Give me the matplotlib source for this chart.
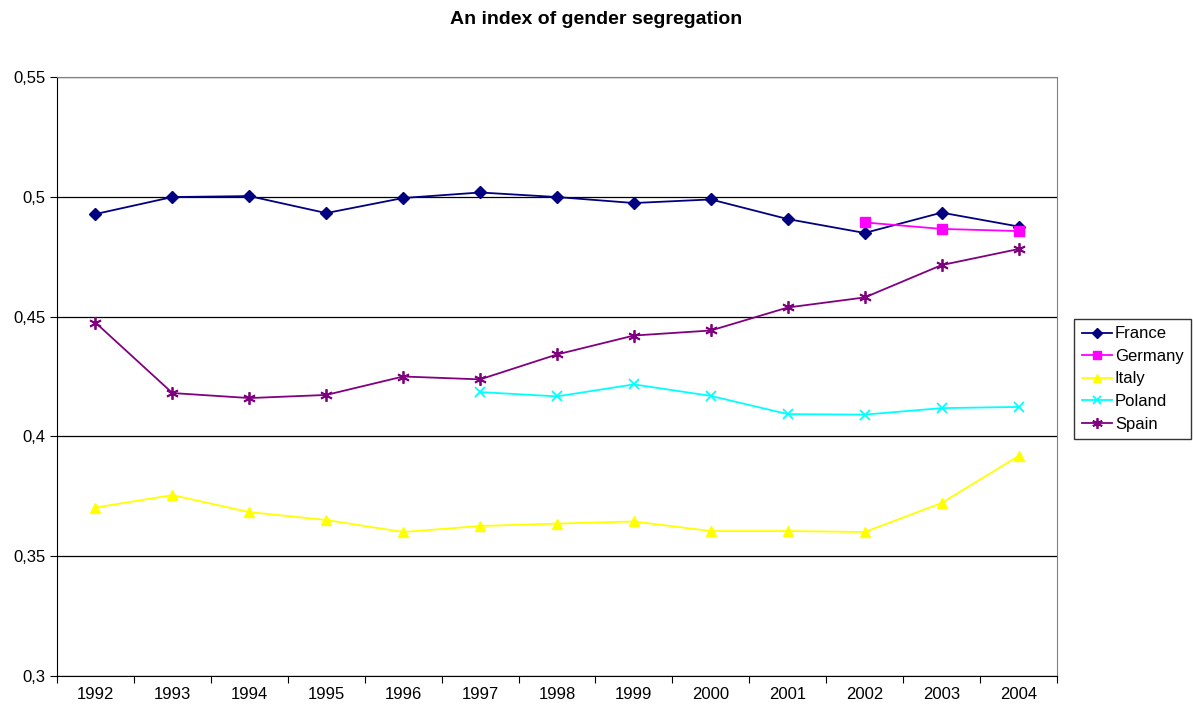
import matplotlib.pyplot as plt
from matplotlib.ticker import FixedLocator, NullFormatter

plt.rcParams['font.family'] = ['Liberation Sans', 'DejaVu Sans']

years = ['1992', '1993', '1994', '1995', '1996', '1997', '1998',
         '1999', '2000', '2001', '2002', '2003', '2004']

france = [0.4928, 0.4999, 0.5003, 0.4932, 0.4995, 0.5018, 0.4999,
          0.4974, 0.4989, 0.4907, 0.4849, 0.4934, 0.4876]
germany = [None] * 10 + [0.4893, 0.4866, 0.4857]
italy = [0.3703, 0.3755, 0.3684, 0.3651, 0.3601, 0.3626, 0.3636,
         0.3645, 0.3605, 0.3605, 0.3601, 0.3722, 0.3918]
poland = [None] * 5 + [0.4185, 0.4167, 0.4217, 0.4169, 0.4093,
                       0.4091, 0.4118, 0.4123]
spain = [0.4475, 0.4181, 0.4160, 0.4173, 0.4250, 0.4238, 0.4342,
         0.4421, 0.4442, 0.4538, 0.4580, 0.4715, 0.4782]

series = [
    ('France', france, '#000080', 'D', 6),
    ('Germany', germany, '#FF00FF', 's', 7),
    ('Italy', italy, '#FFFF00', '^', 7),
    ('Poland', poland, '#00FFFF', 'x', 7),
    ('Spain', spain, '#800080', (6, 2, 0), 9),
]

fig = plt.figure(figsize=(11.93, 7.11), dpi=100)
ax = fig.add_axes([57 / 1193, 35 / 711, 1000 / 1193, 599 / 711])

x = [i + 0.5 for i in range(len(years))]
for name, vals, color, marker, ms in series:
    pts = [(xi, v) for xi, v in zip(x, vals) if v is not None]
    ax.plot([p[0] for p in pts], [p[1] for p in pts], color=color,
            marker=marker, markersize=ms, linewidth=1.3, label=name,
            markeredgewidth=1.3 if marker in ('x', (6, 2, 0)) else 1)

ax.set_xlim(0, len(years))
ax.set_ylim(0.3, 0.55)
yt = [0.3, 0.35, 0.4, 0.45, 0.5, 0.55]
ax.set_yticks(yt)
ax.set_yticklabels(['0,3', '0,35', '0,4', '0,45', '0,5', '0,55'], fontsize=12)
ax.xaxis.set_major_locator(FixedLocator(range(len(years) + 1)))
ax.xaxis.set_major_formatter(NullFormatter())
ax.xaxis.set_minor_locator(FixedLocator(x))
ax.set_xticklabels(years, minor=True, fontsize=12)
ax.tick_params(axis='x', which='minor', length=0, pad=8)
ax.tick_params(axis='both', which='major', direction='out', length=5, color='black')
ax.grid(axis='y', color='black', linewidth=0.9)
ax.set_axisbelow(True)
for side in ('top', 'right'):
    ax.spines[side].set_color('#808080')
for side in ('left', 'bottom'):
    ax.spines[side].set_color('black')

fig.suptitle('An index of gender segregation', fontsize=14, fontweight='bold', y=0.985)

leg = fig.legend(loc='upper left', bbox_to_anchor=(1069 / 1193, 1 - 314 / 711),
                 fontsize=12, frameon=True, fancybox=False, edgecolor='black',
                 handlelength=1.8, borderpad=0.45, labelspacing=0.45, handletextpad=0.2,
                 borderaxespad=0.3, markerscale=0.85)
leg.get_frame().set_linewidth(1)

fig.savefig('out.png', dpi=100)
